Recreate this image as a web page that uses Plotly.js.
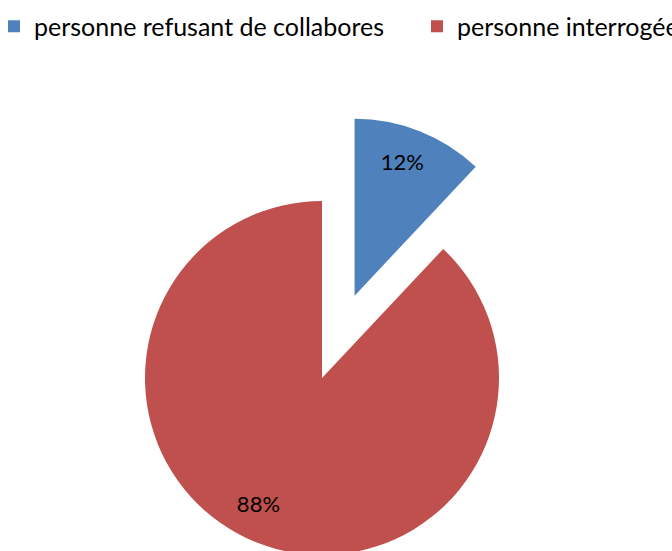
<!DOCTYPE html>
<html>
<head>
<meta charset="utf-8">
<script src="https://cdn.plot.ly/plotly-3.0.1.min.js"></script>
<style>
html,body{margin:0;padding:0;overflow:hidden;background:#fff;width:672px;height:551px;}
#chart{width:1000px;height:700px;margin-left:-6px;}
</style>
</head>
<body>
<div id="chart"></div>
<script>
const labels = ["personne refusant de collabores", "personne interrogée"];
const values = [12, 88];
const colors = ["#4F81BD", "#C0504D"];
const pulls = [0.5, 0];
const labelTemplates = ["%{percent}<br> ", " <br> <br> <br>%{percent}\u00a0\u00a0\u00a0\u00a0\u00a0\u00a0\u00a0\u00a0\u00a0\u00a0\u00a0"];

const W = 1000, H = 700;
const offsetX = 6;
const cx = 322 + offsetX, cy = 378, R = 177;
const maxPull = 0.5;
const half = R * (1 + maxPull);

const trace = {
  type: "pie",
  labels: labels,
  values: values,
  sort: false,
  direction: "clockwise",
  rotation: 0,
  pull: pulls,
  marker: {colors: colors, line: {width: 0}},
  texttemplate: labelTemplates,
  textposition: "inside",
  insidetextorientation: "horizontal",
  textfont: {family: "Lato, 'Noto Sans', sans-serif", size: 22, color: "#000"},
  domain: {
    x: [(cx - half) / W, (cx + half) / W],
    y: [1 - (cy + half) / H, 1 - (cy - half) / H]
  },
  hoverinfo: "none"
};

const layout = {
  width: W, height: H,
  margin: {l: 0, r: 0, t: 0, b: 0},
  paper_bgcolor: "#fff",
  showlegend: true,
  legend: {
    orientation: "h",
    x: 0, xanchor: "left",
    y: 0.995, yanchor: "top",
    font: {family: "Lato, 'Noto Sans', sans-serif", size: 25, color: "#000"},
    entrywidth: 378,
    entrywidthmode: "pixels",
    traceorder: "normal"
  }
};

Plotly.newPlot("chart", [trace], layout, {displayModeBar: false, staticPlot: true});
</script>
</body>
</html>
